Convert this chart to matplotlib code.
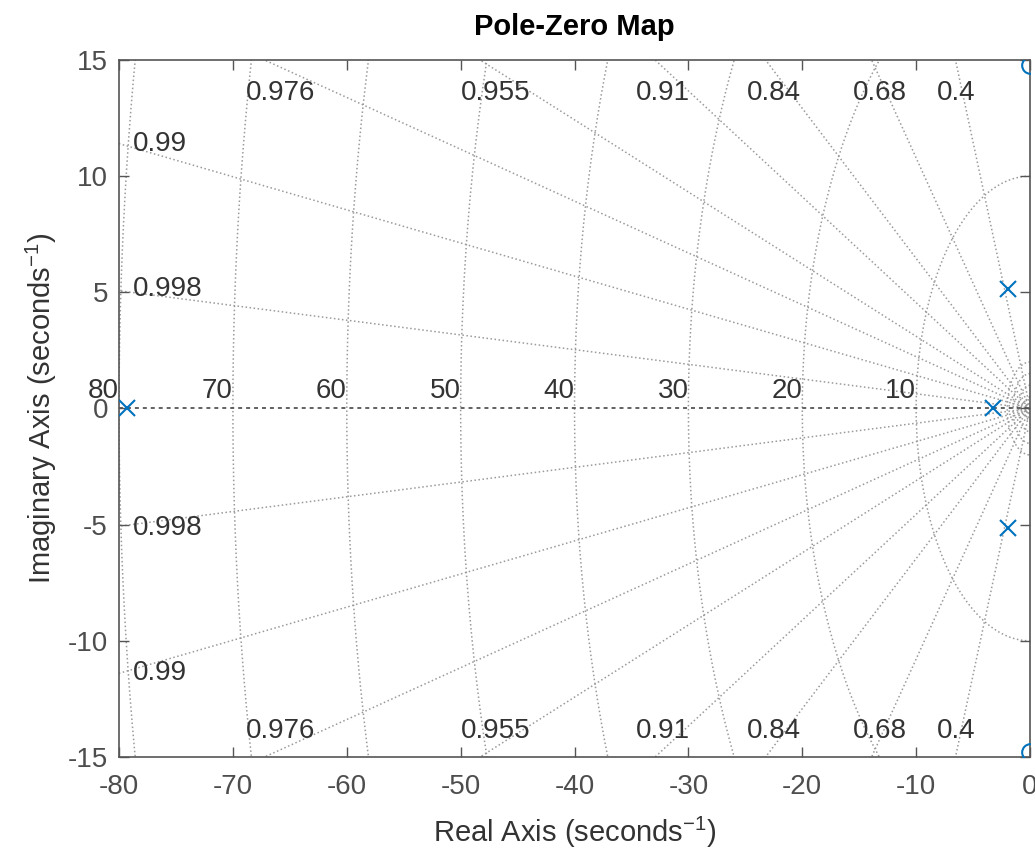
import numpy as np
import matplotlib
matplotlib.use('Agg')
import matplotlib.pyplot as plt

plt.rcParams['font.family'] = ['Liberation Sans', 'DejaVu Sans']
plt.rcParams['mathtext.fontset'] = 'custom'
plt.rcParams['mathtext.rm'] = 'Liberation Sans'
plt.rcParams['mathtext.it'] = 'Liberation Sans'
plt.rcParams['axes.unicode_minus'] = False

# poles and zeros (real, imag)
pole_re = [-79.3, -3.25, -1.93, -1.93]
pole_im = [0.0, 0.0, 5.14, -5.14]
zero_re = [0.0, 0.0]
zero_im = [14.8, -14.8]

# grid values
zetas = [0.4, 0.68, 0.84, 0.91, 0.955, 0.976, 0.99, 0.998]
wns = [10, 20, 30, 40, 50, 60, 70, 80]
small_wns = [0.5, 1.0, 1.5, 2.0]

xticks = [-80, -70, -60, -50, -40, -30, -20, -10, 0]
yticks = [-15, -10, -5, 0, 5, 10, 15]

BLUE = '#0072BD'
GRID = '#9a9a9a'
TXT = '#4d4d4d'
FS = 20

fig = plt.figure(figsize=(10.35, 8.52), dpi=100)
ax = fig.add_axes([0.115, 0.1115, 0.8802, 0.8181])

xmin, xmax, ymin, ymax = -80, 0, -15, 15

# damping lines
for z in zetas:
    s = np.sqrt(1 - z ** 2)
    r = 200
    for sign in (1, -1):
        ax.plot([0, -r * z], [0, sign * r * s], ls=':', color=GRID, lw=1.1, zorder=1)
    x_top = -ymax * z / s
    if x_top > xmin:
        for yv in (13.6, -13.9):
            ax.text(x_top - 1.65, yv, str(z), ha='left', va='center', fontsize=FS, color='#333333')
    else:
        y_left = 78.8 * s / z
        for sign in (1, -1):
            ax.text(-78.8, sign * (y_left + 0.15), str(z), ha='left', va='center', fontsize=FS, color='#333333')

# natural frequency circles
t = np.linspace(np.pi / 2, 3 * np.pi / 2, 400)
for w in wns + small_wns:
    ax.plot(w * np.cos(t), w * np.sin(t), ls=':', color=GRID, lw=1.1, zorder=1)
for w in wns:
    ax.text(-w, 0.2, str(w), ha='right', va='bottom', fontsize=FS, color='#333333', clip_on=False)

# real axis
ax.plot([xmin, xmax], [0, 0], color='#555555', lw=1.3, dashes=(2.2, 2.2), zorder=1)

ax.plot(pole_re, pole_im, 'x', color=BLUE, ms=11, mew=1.5, zorder=3)
ax.plot(zero_re, zero_im, 'o', color=BLUE, mfc='none', ms=12, mew=1.5, zorder=3)

ax.set_xlim(xmin, xmax)
ax.set_ylim(ymin, ymax)
ax.set_xticks(xticks)
ax.set_yticks(yticks)
ax.tick_params(direction='in', length=7, width=1, top=True, right=True,
               labelsize=FS, labelcolor=TXT, color='#555555')
ax.tick_params(axis='x', pad=12)
ax.tick_params(axis='y', pad=8)
for sp in ax.spines.values():
    sp.set_color('#555555')
    sp.set_linewidth(1.2)

ax.set_xlabel('Real Axis (seconds$^{-1}$)', fontsize=21, color='#333333', labelpad=11)
ax.set_ylabel('Imaginary Axis (seconds$^{-1}$)', fontsize=21, color='#333333', labelpad=6)
ax.set_title('Pole-Zero Map', fontsize=21, fontweight='bold', color='black', pad=18)

fig.savefig('out.png', dpi=100)
